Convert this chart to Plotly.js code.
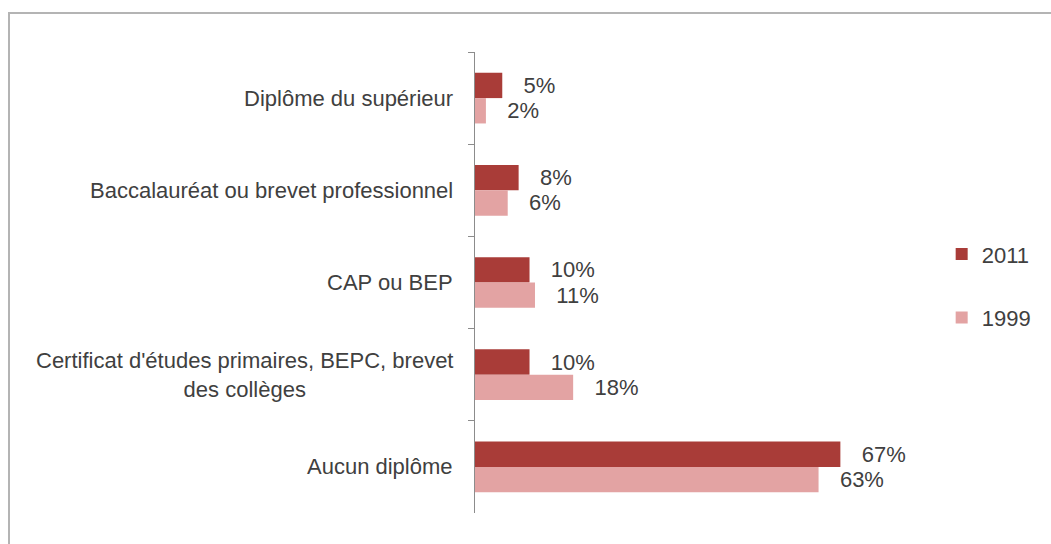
<!DOCTYPE html>
<html>
<head>
<meta charset="utf-8">
<script src="https://cdn.plot.ly/plotly-3.0.1.min.js"></script>
<style>
  html, body { margin: 0; padding: 0; background: #fff; }
  #wrap { position: relative; width: 1051px; height: 544px; overflow: hidden; }
  #chart { position: absolute; left: 0; top: 0; width: 1051px; height: 544px; }
  #frame { position: absolute; left: 8px; top: 12px; width: 1200px; height: 700px;
           border-left: 2px solid #b4b4b4; border-top: 2px solid #b4b4b4; pointer-events: none; }
</style>
</head>
<body>
<div id="wrap">
  <div id="chart"></div>
  <div id="frame"></div>
</div>
<script>
const categories = [
  "Diplôme du supérieur",
  "Baccalauréat ou brevet professionnel",
  "CAP ou BEP",
  "Certificat d'études primaires, BEPC, brevet<br>des collèges",
  "Aucun diplôme"
];
const values2011 = [5, 8, 10, 10, 67];
const values1999 = [2, 6, 11, 18, 63];
const seriesNames = ["2011", "1999"];

const pad = "\u00a0\u00a0\u00a0";
const fontFam = "Liberation Sans, Arial, sans-serif";
const txtColor = "#404040";

const traces = [
  {
    type: "bar", orientation: "h", name: seriesNames[0], legendgroup: "a",
    y: categories, x: values2011,
    marker: { color: "#a93c38" },
    text: values2011.map(v => pad + v + "%"), textposition: "outside",
    textfont: { color: txtColor, size: 22, family: fontFam },
    cliponaxis: false, hoverinfo: "skip"
  },
  {
    type: "bar", orientation: "h", name: seriesNames[1], legendgroup: "b",
    y: categories, x: values1999,
    marker: { color: "#e3a3a3" },
    text: values1999.map(v => pad + v + "%"), textposition: "outside",
    textfont: { color: txtColor, size: 22, family: fontFam },
    cliponaxis: false, hoverinfo: "skip"
  }
];

const catAnnotations = categories.map(c => ({
  xref: "paper", yref: "y", x: 0, y: c, xanchor: "right", yanchor: "middle",
  xshift: -20, text: c, align: "center", showarrow: false,
  font: { size: 22, color: txtColor, family: fontFam }
}));

const layout = {
  width: 1051, height: 544,
  margin: { l: 475, r: 167, t: 52, b: 31 },
  paper_bgcolor: "#ffffff", plot_bgcolor: "#ffffff",
  barmode: "group", bargap: 0.45, bargroupgap: 0,
  font: { family: fontFam, color: txtColor, size: 22 },
  xaxis: { range: [0, 75], visible: false, showgrid: false, zeroline: false, fixedrange: true },
  yaxis: {
    type: "category", autorange: "reversed",
    showline: true, linecolor: "#8c8c8c", linewidth: 1.5,
    ticks: "outside", tickson: "boundaries", ticklen: 6, tickcolor: "#8c8c8c",
    showgrid: false, zeroline: false, showticklabels: false
  },
  annotations: catAnnotations,
  showlegend: true,
  legend: {
    x: 1.141, xanchor: "left", y: 0.492, yanchor: "middle",
    traceorder: "grouped", tracegroupgap: 32,
    font: { size: 22, color: txtColor, family: fontFam },
    bgcolor: "rgba(0,0,0,0)"
  }
};

Plotly.newPlot("chart", traces, layout, { staticPlot: true, displayModeBar: false });
</script>
</body>
</html>
